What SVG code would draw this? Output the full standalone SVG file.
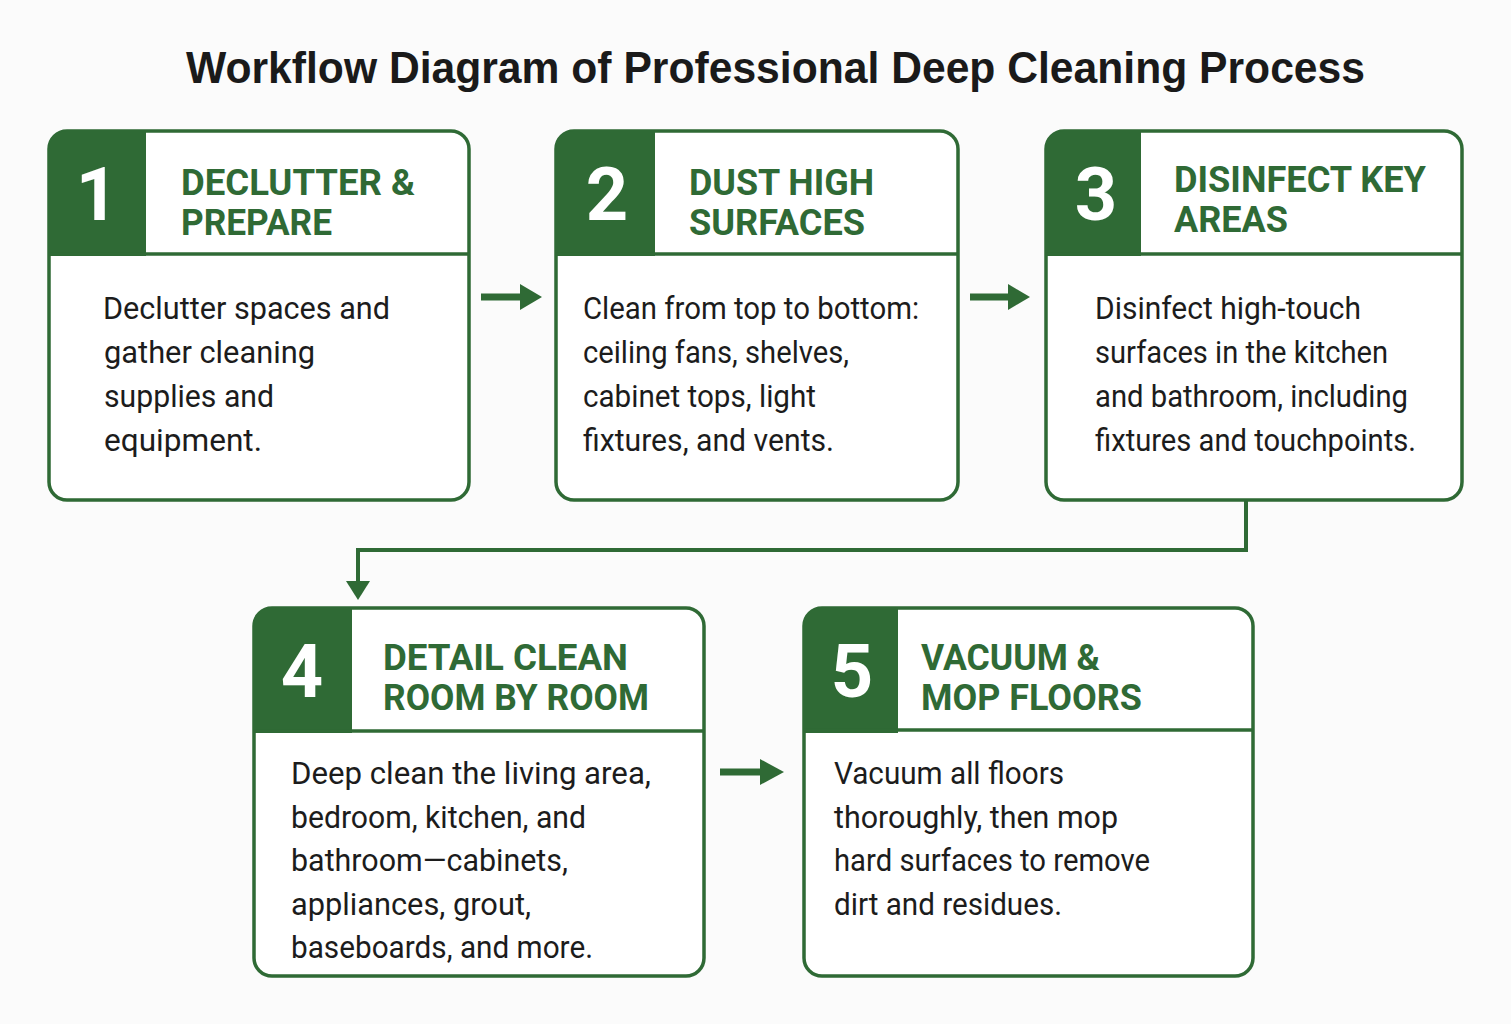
<svg xmlns="http://www.w3.org/2000/svg" width="1511" height="1024" viewBox="0 0 1511 1024">
<defs>
<style>
.bg{fill:#fbfbfb}
.box{fill:#ffffff;stroke:#2f6a35;stroke-width:3.5}
.badge{fill:#2f6a35}
.sep{stroke:#2f6a35;stroke-width:3.5}
.num{font-family:Roboto,"Liberation Sans",sans-serif;font-weight:700;font-size:74px;fill:#ffffff;text-anchor:middle}
.hd{font-family:Roboto,"Liberation Sans",sans-serif;font-weight:700;font-size:37px;fill:#2f6a35}
.bd{font-family:Roboto,"Liberation Sans",sans-serif;font-size:32px;fill:#1c1c1c}
.title{font-family:"Liberation Sans",Arial,sans-serif;font-weight:700;font-size:44px;fill:#1a1a1a}
.conn{fill:none;stroke:#2f6a35;stroke-width:4}
.shaft{stroke:#2f6a35;stroke-width:7}
.head{fill:#2f6a35}
</style>
</defs>
<rect class="bg" x="0" y="0" width="1511" height="1024"/>
<text class="title" x="186" y="83" textLength="1179" lengthAdjust="spacingAndGlyphs">Workflow Diagram of Professional Deep Cleaning Process</text>

<g id="connectors">
<line class="shaft" x1="481" y1="297" x2="524" y2="297"/>
<polygon class="head" points="520,284 542,297 520,310"/>
<line class="shaft" x1="970" y1="297" x2="1012" y2="297"/>
<polygon class="head" points="1008,284 1030,297 1008,310"/>
<line class="shaft" x1="720" y1="772" x2="764" y2="772"/>
<polygon class="head" points="760,759 784,772 760,785"/>
<polyline class="conn" points="1246,500 1246,550 358,550 358,584"/>
<polygon class="head" points="346,581 370,581 358,600"/>
</g>

<g id="node1">
<rect class="box" x="49" y="131" width="420" height="369" rx="18"/>
<path class="badge" d="M67,131 H146 V256 H49 V149 A18,18 0 0 1 67,131 Z"/>
<line class="sep" x1="49" y1="254" x2="469" y2="254"/>
<text class="num" x="97" y="220">1</text>
<text class="hd" x="181" y="195" textLength="234" lengthAdjust="spacingAndGlyphs">DECLUTTER &amp;</text>
<text class="hd" x="181" y="235" textLength="151" lengthAdjust="spacingAndGlyphs">PREPARE</text>
<text class="bd" x="103" y="319" textLength="287" lengthAdjust="spacingAndGlyphs">Declutter spaces and</text>
<text class="bd" x="104" y="363" textLength="211" lengthAdjust="spacingAndGlyphs">gather cleaning</text>
<text class="bd" x="104" y="407" textLength="170" lengthAdjust="spacingAndGlyphs">supplies and</text>
<text class="bd" x="104" y="451" textLength="158" lengthAdjust="spacingAndGlyphs">equipment.</text>
</g>

<g id="node2">
<rect class="box" x="556" y="131" width="402" height="369" rx="18"/>
<path class="badge" d="M574,131 H655 V256 H556 V149 A18,18 0 0 1 574,131 Z"/>
<line class="sep" x1="556" y1="254" x2="958" y2="254"/>
<text class="num" x="607" y="220">2</text>
<text class="hd" x="689" y="195" textLength="185" lengthAdjust="spacingAndGlyphs">DUST HIGH</text>
<text class="hd" x="689" y="235" textLength="176" lengthAdjust="spacingAndGlyphs">SURFACES</text>
<text class="bd" x="583" y="319" textLength="336" lengthAdjust="spacingAndGlyphs">Clean from top to bottom:</text>
<text class="bd" x="583" y="363" textLength="266" lengthAdjust="spacingAndGlyphs">ceiling fans, shelves,</text>
<text class="bd" x="583" y="407" textLength="233" lengthAdjust="spacingAndGlyphs">cabinet tops, light</text>
<text class="bd" x="583" y="451" textLength="251" lengthAdjust="spacingAndGlyphs">fixtures, and vents.</text>
</g>

<g id="node3">
<rect class="box" x="1046" y="131" width="416" height="369" rx="18"/>
<path class="badge" d="M1064,131 H1141 V256 H1046 V149 A18,18 0 0 1 1064,131 Z"/>
<line class="sep" x1="1046" y1="254" x2="1462" y2="254"/>
<text class="num" x="1096" y="220">3</text>
<text class="hd" x="1174" y="192" textLength="252" lengthAdjust="spacingAndGlyphs">DISINFECT KEY</text>
<text class="hd" x="1174" y="232" textLength="114" lengthAdjust="spacingAndGlyphs">AREAS</text>
<text class="bd" x="1095" y="319" textLength="266" lengthAdjust="spacingAndGlyphs">Disinfect high-touch</text>
<text class="bd" x="1095" y="363" textLength="293" lengthAdjust="spacingAndGlyphs">surfaces in the kitchen</text>
<text class="bd" x="1095" y="407" textLength="313" lengthAdjust="spacingAndGlyphs">and bathroom, including</text>
<text class="bd" x="1095" y="451" textLength="321" lengthAdjust="spacingAndGlyphs">fixtures and touchpoints.</text>
</g>

<g id="node4">
<rect class="box" x="254" y="608" width="450" height="368" rx="18"/>
<path class="badge" d="M272,608 H352 V733 H254 V626 A18,18 0 0 1 272,608 Z"/>
<line class="sep" x1="254" y1="731" x2="704" y2="731"/>
<text class="num" x="302" y="697">4</text>
<text class="hd" x="383" y="670" textLength="245" lengthAdjust="spacingAndGlyphs">DETAIL CLEAN</text>
<text class="hd" x="383" y="710" textLength="266" lengthAdjust="spacingAndGlyphs">ROOM BY ROOM</text>
<text class="bd" x="291" y="784" textLength="360" lengthAdjust="spacingAndGlyphs">Deep clean the living area,</text>
<text class="bd" x="291" y="828" textLength="295" lengthAdjust="spacingAndGlyphs">bedroom, kitchen, and</text>
<text class="bd" x="291" y="871" textLength="277" lengthAdjust="spacingAndGlyphs">bathroom—cabinets,</text>
<text class="bd" x="291" y="915" textLength="240" lengthAdjust="spacingAndGlyphs">appliances, grout,</text>
<text class="bd" x="291" y="958" textLength="302" lengthAdjust="spacingAndGlyphs">baseboards, and more.</text>
</g>

<g id="node5">
<rect class="box" x="804" y="608" width="449" height="368" rx="18"/>
<path class="badge" d="M822,608 H898 V733 H804 V626 A18,18 0 0 1 822,608 Z"/>
<line class="sep" x1="804" y1="730" x2="1253" y2="730"/>
<text class="num" x="852" y="697">5</text>
<text class="hd" x="921" y="670" textLength="179" lengthAdjust="spacingAndGlyphs">VACUUM &amp;</text>
<text class="hd" x="921" y="710" textLength="221" lengthAdjust="spacingAndGlyphs">MOP FLOORS</text>
<text class="bd" x="834" y="784" textLength="230" lengthAdjust="spacingAndGlyphs">Vacuum all floors</text>
<text class="bd" x="834" y="828" textLength="284" lengthAdjust="spacingAndGlyphs">thoroughly, then mop</text>
<text class="bd" x="834" y="871" textLength="316" lengthAdjust="spacingAndGlyphs">hard surfaces to remove</text>
<text class="bd" x="834" y="915" textLength="228" lengthAdjust="spacingAndGlyphs">dirt and residues.</text>
</g>
</svg>
